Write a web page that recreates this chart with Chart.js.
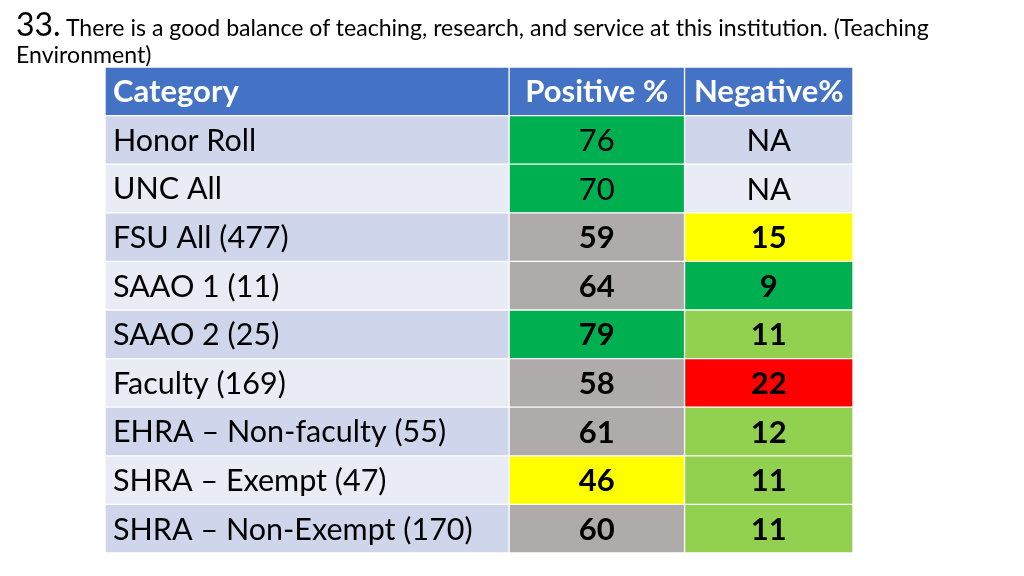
<!DOCTYPE html>
<html>
<head>
<meta charset="utf-8">
<script src="https://cdn.jsdelivr.net/npm/chart.js@4/dist/chart.umd.min.js"></script>
<style>
  html, body { margin: 0; padding: 0; background: #fff; }
  #wrap { position: relative; width: 1024px; height: 576px; }
  #title {
    position: absolute; left: 16px; top: 10px; width: 990px;
    font-family: Lato, "Open Sans", sans-serif; font-size: 23.1px; line-height: 27px;
    color: #000; z-index: 2;
  }
  #title .num { font-size: 32px; }
</style>
</head>
<body>
<div id="wrap">
  <div id="title"><span class="num">33.</span> There is a good balance of teaching, research, and service at this institution. (Teaching<br>Environment)</div>
  <canvas id="table"></canvas>
</div>
<script>
// table data
const headers = ['Category', 'Positive %', 'Negative%'];
const categories = ['Honor Roll', 'UNC All', 'FSU All (477)', 'SAAO 1 (11)', 'SAAO 2 (25)',
  'Faculty (169)', 'EHRA \u2013 Non-faculty (55)', 'SHRA \u2013 Exempt (47)', 'SHRA \u2013 Non-Exempt (170)'];
const positive = [76, 70, 59, 64, 79, 58, 61, 46, 60];
const negative = ['NA', 'NA', 15, 9, 11, 22, 12, 11, 11];

// look of the cells
const colWidths = [403, 175, 168];
const headerColor = '#4472C4';
const bandColors = ['#CFD5EA', '#E9EBF5'];
const positiveColors = ['#00B050', '#00B050', '#AFABAB', '#AFABAB', '#00B050', '#AFABAB', '#AFABAB', '#FFFF00', '#AFABAB'];
const negativeColors = [null, null, '#FFFF00', '#00B050', '#92D050', '#FF0000', '#92D050', '#92D050', '#92D050'];
const boldValue = [false, false, true, true, true, true, true, true, true];

const rowKeys = ['header'].concat(categories);
const band = (i) => bandColors[i % 2];

const cellText = [
  [headers[0]].concat(categories),
  [headers[1]].concat(positive.map(String)),
  [headers[2]].concat(negative.map(String))
];
const cellColors = [
  [headerColor].concat(categories.map((c, i) => band(i))),
  [headerColor].concat(positiveColors),
  [headerColor].concat(negativeColors.map((c, i) => c || band(i)))
];

const FONT = 'Lato, "Open Sans", sans-serif';

const cellLabels = {
  id: 'cellLabels',
  afterDatasetsDraw(chart) {
    const ctx = chart.ctx;
    ctx.save();
    ctx.textBaseline = 'middle';
    chart.data.datasets.forEach((ds, di) => {
      const meta = chart.getDatasetMeta(di);
      meta.data.forEach((bar, ri) => {
        const left = Math.min(bar.x, bar.base);
        const right = Math.max(bar.x, bar.base);
        const txt = cellText[di][ri];
        let weight = 'normal';
        if (ri === 0) weight = 'bold';
        else if (di > 0 && boldValue[ri - 1]) weight = 'bold';
        const size = (di === 0 && ri > 0) ? 30.5 : 31;
        ctx.font = weight + ' ' + size + 'px ' + FONT;
        ctx.fillStyle = ri === 0 ? '#ffffff' : '#000000';
        if (di === 0) {
          ctx.textAlign = 'left';
          ctx.fillText(txt, left + 8, bar.y + 1);
        } else {
          ctx.textAlign = 'center';
          ctx.fillText(txt, (left + right) / 2, bar.y + 1);
        }
      });
    });
    ctx.restore();
  }
};

new Chart(document.getElementById('table'), {
  type: 'bar',
  data: {
    labels: rowKeys,
    datasets: colWidths.map((w, ci) => ({
      label: headers[ci],
      data: rowKeys.map(() => w),
      backgroundColor: cellColors[ci],
      borderColor: '#ffffff',
      borderWidth: 1,
      borderSkipped: false,
      barPercentage: 1,
      categoryPercentage: 1
    }))
  },
  options: {
    indexAxis: 'y',
    responsive: true,
    maintainAspectRatio: false,
    animation: false,
    layout: { padding: { left: 105, right: 171, top: 67, bottom: 23 } },
    scales: {
      x: { stacked: true, display: false, min: 0, max: colWidths.reduce((a, b) => a + b, 0) },
      y: { stacked: true, display: false }
    },
    plugins: {
      legend: { display: false },
      tooltip: { enabled: false },
      title: { display: false }
    }
  },
  plugins: [cellLabels]
});
</script>
</body>
</html>
